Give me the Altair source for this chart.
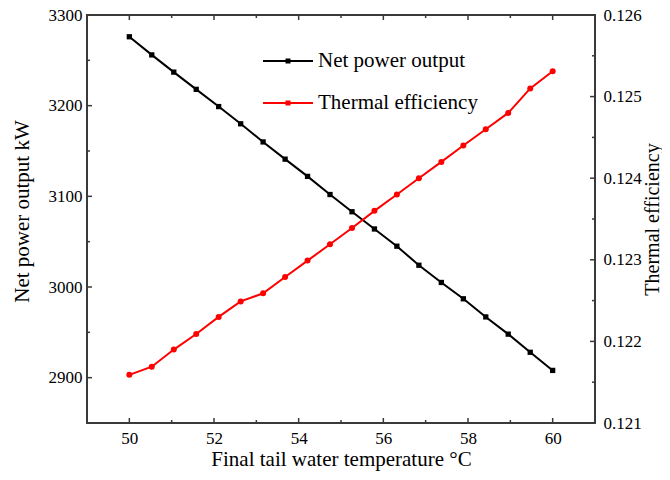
import altair as alt
import pandas as pd

# ---------------- data ----------------
temps = [50.0, 50.53, 51.05, 51.58, 52.11, 52.63, 53.16, 53.68, 54.21, 54.74,
         55.26, 55.79, 56.32, 56.84, 57.37, 57.89, 58.42, 58.95, 59.47, 60.0]
power = [3276, 3256, 3237, 3218, 3199, 3180, 3160, 3141, 3122, 3102,
         3083, 3064, 3045, 3024, 3005, 2987, 2967, 2948, 2928, 2908]
eff = [0.12159, 0.12169, 0.12190, 0.12209, 0.12230, 0.12249, 0.12259, 0.12279,
       0.12299, 0.12319, 0.12339, 0.12360, 0.12380, 0.12400, 0.12420, 0.12440,
       0.12460, 0.12480, 0.12510, 0.12531]
series_names = ["Net power output", "Thermal efficiency"]
series_colors = ["black", "red"]

x_major = [50, 52, 54, 56, 58, 60]
x_minor = [51, 53, 55, 57, 59]
p_major = [2900, 3000, 3100, 3200, 3300]
p_minor = [2950, 3050, 3150, 3250]
e_major = [0.121, 0.122, 0.123, 0.124, 0.125, 0.126]
e_minor = [0.1215, 0.1225, 0.1235, 0.1245, 0.1255]

# ---------------- style ----------------
FONT = "Liberation Serif"
W, H = 508, 408
FRAME = "#3a3a3a"
MAJ, MIN = 5, 3
TITLE_SIZE = 21

x_scale = alt.Scale(domain=[49, 61], nice=False, zero=False)
p_scale = alt.Scale(domain=[2850, 3300], nice=False, zero=False)
e_scale = alt.Scale(domain=[0.121, 0.126], nice=False, zero=False)
c_scale = alt.Scale(domain=series_names, range=series_colors)

x_enc = alt.X("T:Q", scale=x_scale,
              axis=alt.Axis(values=x_major, format="d", ticks=False, domain=False, grid=False,
                            title="Final tail water temperature °C",
                            labelPadding=7, titlePadding=2))
p_y = alt.Y("value:Q", scale=p_scale,
            axis=alt.Axis(orient="left", values=p_major, format="d", ticks=False, domain=False,
                          grid=False, title="Net power output kW", labelPadding=5,
                          titlePadding=16, titleY=196))
e_y = alt.Y("value:Q", scale=e_scale,
            axis=alt.Axis(orient="right", values=e_major, format=".3f", ticks=False, domain=False,
                          grid=False, title="Thermal efficiency", titleAngle=270,
                          titleFontSize=20, titleBaseline="top", labelPadding=8,
                          titlePadding=1))

legend = alt.Legend(
    title=None, orient="none", legendX=187.5, legendY=32.5, padding=0,
    symbolType="M-2,0L2,0M-0.12,-0.12L0.12,-0.12L0.12,0.12L-0.12,0.12Z",
    symbolSize=625, symbolStrokeWidth=2, labelOffset=16.5, rowPadding=18,
    labelFont=FONT, labelFontSize=TITLE_SIZE, labelColor="black",
)
color_leg = alt.Color("series:N", scale=c_scale, legend=legend)
color_noleg = alt.Color("series:N", scale=c_scale, legend=None)

pdf = pd.DataFrame({"T": temps, "value": power, "series": series_names[0]})
edf = pd.DataFrame({"T": temps, "value": eff, "series": series_names[1]})


def yticks(vals, y_enc, x0, length):
    return alt.Chart(pd.DataFrame({"value": vals})).mark_rule(
        color=FRAME, strokeWidth=1.5).encode(y=y_enc, x=alt.value(x0), x2=alt.value(length))


def xticks(vals, y0, y1):
    return alt.Chart(pd.DataFrame({"T": vals})).mark_rule(
        color=FRAME, strokeWidth=1.5).encode(x=x_enc, y=alt.value(y0), y2=alt.value(y1))


left = alt.layer(
    alt.Chart(pdf).mark_line(strokeWidth=2).encode(x=x_enc, y=p_y, color=color_leg),
    alt.Chart(pdf).mark_square(size=28, opacity=1).encode(x=x_enc, y=p_y, color=color_noleg),
    yticks(p_major, p_y, 0, MAJ),
    yticks(p_minor, p_y, 0, MIN),
)
right = alt.layer(
    alt.Chart(edf).mark_line(strokeWidth=2).encode(x=x_enc, y=e_y, color=color_leg),
    alt.Chart(edf).mark_circle(size=36, opacity=1).encode(x=x_enc, y=e_y, color=color_noleg),
    yticks(e_major, e_y, W, W - MAJ),
    yticks(e_minor, e_y, W, W - MIN),
)

chart = alt.layer(
    left, right,
    xticks(x_major, H, H - MAJ), xticks(x_minor, H, H - MIN),
    xticks(x_major, 0, MAJ), xticks(x_minor, 0, MIN),
).resolve_scale(y="independent").properties(
    width=W, height=H,
    padding={"left": 79, "top": 7, "right": 67, "bottom": 48},
    autosize=alt.AutoSizeParams(type="none"),
).configure_view(stroke=FRAME, strokeWidth=2).configure_axis(
    labelFont=FONT, titleFont=FONT, labelFontSize=17, titleFontSize=TITLE_SIZE,
    labelColor="black", titleColor="black", titleFontWeight="normal",
)

chart.save("out.html", embed_options={"renderer": "svg", "actions": False})
